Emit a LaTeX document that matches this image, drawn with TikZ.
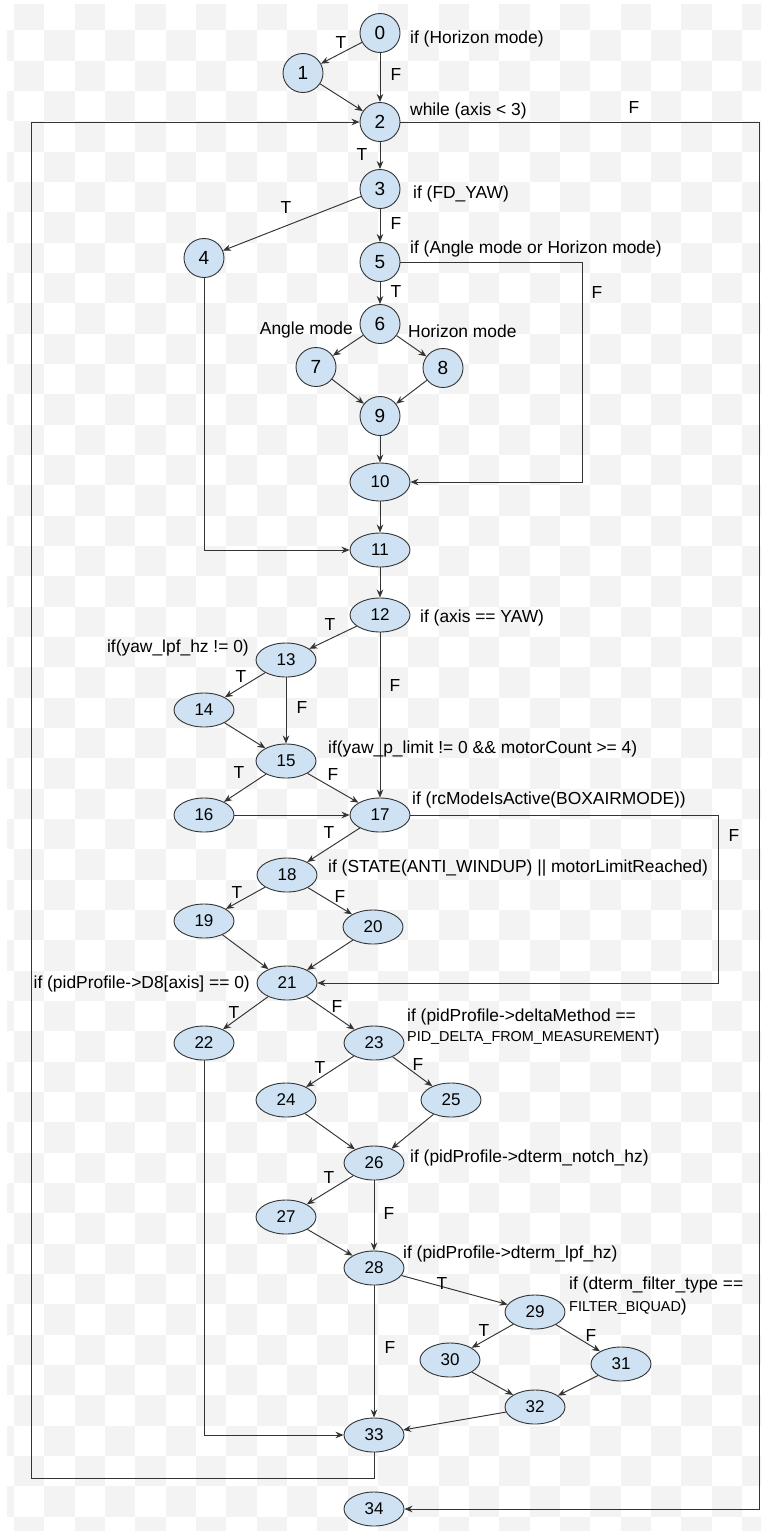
\documentclass[tikz,border=0pt]{standalone}
\usepackage{fontspec}
\setmainfont{Liberation Sans}
\usetikzlibrary{shapes.geometric,arrows.meta,decorations.pathmorphing}
\definecolor{nodefill}{HTML}{CFE2F3}
\definecolor{nodedraw}{HTML}{333333}
\definecolor{edgecol}{HTML}{333333}
\definecolor{checker}{HTML}{F3F3F3}
\definecolor{sqred}{HTML}{E06666}
\newcommand\lblfont{\fontsize{17.4}{20}\selectfont}
\newcommand\pidsmall{\fontsize{14.4}{17}\selectfont}
\newlength\sqa
\newlength\sqb
\newcommand\squig[3]{\settowidth\sqa{\lblfont #2}\settowidth\sqb{\lblfont #3}\draw[squigline] ([xshift=\sqa,yshift=-3.5pt]#1.base west) -- ++(\sqb,0pt);}
\tikzset{
  st/.style={ellipse, draw=nodedraw, fill=nodefill, line width=0.9pt, inner sep=0pt,
    font=\fontsize{19}{19}\selectfont, minimum width=40pt, minimum height=39pt},
  dt/.style={st, font=\fontsize{17}{17}\selectfont, minimum width=60pt, minimum height=34pt},
  ed/.style={draw=edgecol, line width=0.95pt, -{Stealth[length=8pt,width=6.5pt]}},
  lbl/.style={anchor=base west, inner sep=0pt, font=\lblfont},
  lblr/.style={anchor=base east, inner sep=0pt, font=\lblfont},
  tf/.style={inner sep=0pt, font=\lblfont},
  squigline/.style={draw=sqred, line width=0.6pt, decorate,
    decoration={snake, amplitude=0.8pt, segment length=3pt}},
}
\begin{document}
\begin{tikzpicture}[x=1pt,y=-1pt]
\useasboundingbox (0,0) rectangle (761,1531);
\fill[white] (0,0) rectangle (761,1531);
\begin{scope}
\clip (7,4) rectangle (761,1531);
\foreach \i in {-1,...,24} {
  \foreach \j in {0,...,50} {
    \pgfmathtruncatemacro\chkpar{mod(\i+\j+100,2)}
    \ifnum\chkpar=0
      \fill[checker] ({14+30.33*\i},{30.33*\j}) rectangle ++(30.33,30.33);
    \fi
  }
}
\end{scope}

% nodes
\node[st] (n0) at (380,33) {0};
\node[st] (n1) at (303,73) {1};
\node[st] (n2) at (380,122) {2};
\node[st] (n3) at (380,189) {3};
\node[st] (n4) at (204,258) {4};
\node[st] (n5) at (380,262) {5};
\node[st] (n6) at (380,324) {6};
\node[st] (n7) at (316,367) {7};
\node[st] (n8) at (443,368) {8};
\node[st] (n9) at (380,416) {9};
\node[dt,minimum height=38pt] (n10) at (380,482) {10};
\node[dt] (n11) at (380,550) {11};
\node[dt] (n12) at (380,615) {12};
\node[dt] (n13) at (286,660) {13};
\node[dt] (n14) at (204,710) {14};
\node[dt] (n15) at (286,761) {15};
\node[dt] (n16) at (204,815) {16};
\node[dt] (n17) at (380,815) {17};
\node[dt] (n18) at (287,875) {18};
\node[dt] (n19) at (204,921) {19};
\node[dt] (n20) at (373,927) {20};
\node[dt] (n21) at (287,983) {21};
\node[dt] (n22) at (204,1043) {22};
\node[dt] (n23) at (374,1043) {23};
\node[dt] (n24) at (286,1100) {24};
\node[dt] (n25) at (451,1100) {25};
\node[dt] (n26) at (374,1163) {26};
\node[dt] (n27) at (286,1217) {27};
\node[dt] (n28) at (374,1268) {28};
\node[dt] (n29) at (535,1312) {29};
\node[dt] (n30) at (450,1360) {30};
\node[dt] (n31) at (621,1364) {31};
\node[dt] (n32) at (535,1407) {32};
\node[dt] (n33) at (374,1435) {33};
\node[dt] (n34) at (374,1509) {34};

% routing points
\coordinate (r2) at (759,122);
\coordinate (r5) at (582,262);
\coordinate (r17) at (718,815);
\coordinate (b33) at (374,1478);
\coordinate (l33) at (31,1478);

% edges
\draw[ed] (n0) -- (n1);
\draw[ed] (n0) -- (n2);
\draw[ed] (n1) -- (n2);
\draw[ed] (n2) -- (n3);
\draw[ed] (n2) -- (r2) |- (n34);
\draw[ed] (n3) -- (n4);
\draw[ed] (n3) -- (n5);
\draw[ed] (n5) -- (n6);
\draw[ed] (n5) -- (r5) |- (n10);
\draw[ed] (n6) -- (n7);
\draw[ed] (n6) -- (n8);
\draw[ed] (n7) -- (n9);
\draw[ed] (n8) -- (n9);
\draw[ed] (n9) -- (n10);
\draw[ed] (n10) -- (n11);
\draw[ed] (n4) |- (n11);
\draw[ed] (n11) -- (n12);
\draw[ed] (n12) -- (n13);
\draw[ed] (n12) -- (n17);
\draw[ed] (n13) -- (n14);
\draw[ed] (n13) -- (n15);
\draw[ed] (n14) -- (n15);
\draw[ed] (n15) -- (n16);
\draw[ed] (n15) -- (n17);
\draw[ed] (n16) -- (n17);
\draw[ed] (n17) -- (n18);
\draw[ed] (n17) -- (r17) |- (n21);
\draw[ed] (n18) -- (n19);
\draw[ed] (n18) -- (n20);
\draw[ed] (n19) -- (n21);
\draw[ed] (n20) -- (n21);
\draw[ed] (n21) -- (n22);
\draw[ed] (n21) -- (n23);
\draw[ed] (n23) -- (n24);
\draw[ed] (n23) -- (n25);
\draw[ed] (n24) -- (n26);
\draw[ed] (n25) -- (n26);
\draw[ed] (n26) -- (n27);
\draw[ed] (n26) -- (n28);
\draw[ed] (n27) -- (n28);
\draw[ed] (n28) -- (n29);
\draw[ed] (n28) -- (n33);
\draw[ed] (n29) -- (n30);
\draw[ed] (n29) -- (n31);
\draw[ed] (n30) -- (n32);
\draw[ed] (n31) -- (n32);
\draw[ed] (n32) -- (n33);
\draw[ed] (n22) |- (n33);
\draw[ed] (n33) -- (b33) -- (l33) |- (n2);

% condition labels
\node[lbl] (L0) at (410,43) {if (Horizon mode)};
\node[lbl] (L2) at (410,115) {while (axis < 3)};
\node[lbl] (L3) at (413,198) {if (FD\_YAW)};
\node[lbl] (L5) at (410,253) {if (Angle mode or Horizon mode)};
\node[lblr] (L6a) at (353,334) {Angle mode};
\node[lbl] (L6b) at (408,337) {Horizon mode};
\node[lbl] (L12) at (420,622) {if (axis == YAW)};
\node[lblr] (L13) at (249,652) {if(yaw\_lpf\_hz != 0)};
\node[lbl] (L15) at (328,753) {if(yaw\_p\_limit != 0 \&\& motorCount >= 4)};
\node[lbl] (L17) at (412,804) {if (rcModeIsActive(BOXAIRMODE))};
\node[lbl] (L18) at (328,872) {if (STATE(ANTI\_WINDUP) || motorLimitReached)};
\node[lblr] (L21) at (250,988) {if (pidProfile->D8[axis] == 0)};
\node[lbl] (L23a) at (407,1021) {if (pidProfile->deltaMethod ==};
\node[lbl] (L23b) at (407,1041) {{\pidsmall PID\_DELTA\_FROM\_MEASUREMENT})};
\node[lbl] (L26) at (410,1162) {if (pidProfile->dterm\_notch\_hz)};
\node[lbl] (L28) at (403,1258) {if (pidProfile->dterm\_lpf\_hz)};
\node[lbl] (L29a) at (569,1289) {if (dterm\_filter\_type ==};
\node[lbl] (L29b) at (569,1311) {{\pidsmall FILTER\_BIQUAD})};

% spell-check squiggles
\squig{L17}{if (}{rcModeIsActive}
\squig{L17}{if (rcModeIsActive(}{BOXAIRMODE}
\squig{L18}{if (STATE(ANTI\_WINDUP) || }{motorLimitReached}
\squig{L21}{if (}{pidProfile}
\squig{L23a}{if (}{pidProfile}
\squig{L26}{if (}{pidProfile}
\squig{L28}{if (}{pidProfile}

% T / F labels
\node[tf] (t0) at (341,43) {T};
\node[tf] (f0) at (396,75) {F};
\node[tf] (f2) at (634,108) {F};
\node[tf] (t2) at (362,155) {T};
\node[tf] (t3) at (286,208) {T};
\node[tf] (f3) at (396,224) {F};
\node[tf] (t5) at (396,292) {T};
\node[tf] (f5) at (597,293) {F};
\node[tf] (t12) at (330,625) {T};
\node[tf] (f12) at (395,686) {F};
\node[tf] (t13) at (241,677) {T};
\node[tf] (f13) at (302,708) {F};
\node[tf] (t15) at (239,773) {T};
\node[tf] (f15) at (333,775) {F};
\node[tf] (t17) at (329,833) {T};
\node[tf] (f17) at (734,836) {F};
\node[tf] (t18) at (237,893) {T};
\node[tf] (f18) at (340,897) {F};
\node[tf] (t21) at (234,1013) {T};
\node[tf] (f21) at (337,1007) {F};
\node[tf] (t23) at (320,1068) {T};
\node[tf] (f23) at (418,1065) {F};
\node[tf] (t26) at (329,1177) {T};
\node[tf] (f26) at (389,1213) {F};
\node[tf] (t28) at (442,1283) {T};
\node[tf] (f28) at (390,1347) {F};
\node[tf] (t29) at (484,1330) {T};
\node[tf] (f29) at (591,1335) {F};
\end{tikzpicture}
\end{document}
